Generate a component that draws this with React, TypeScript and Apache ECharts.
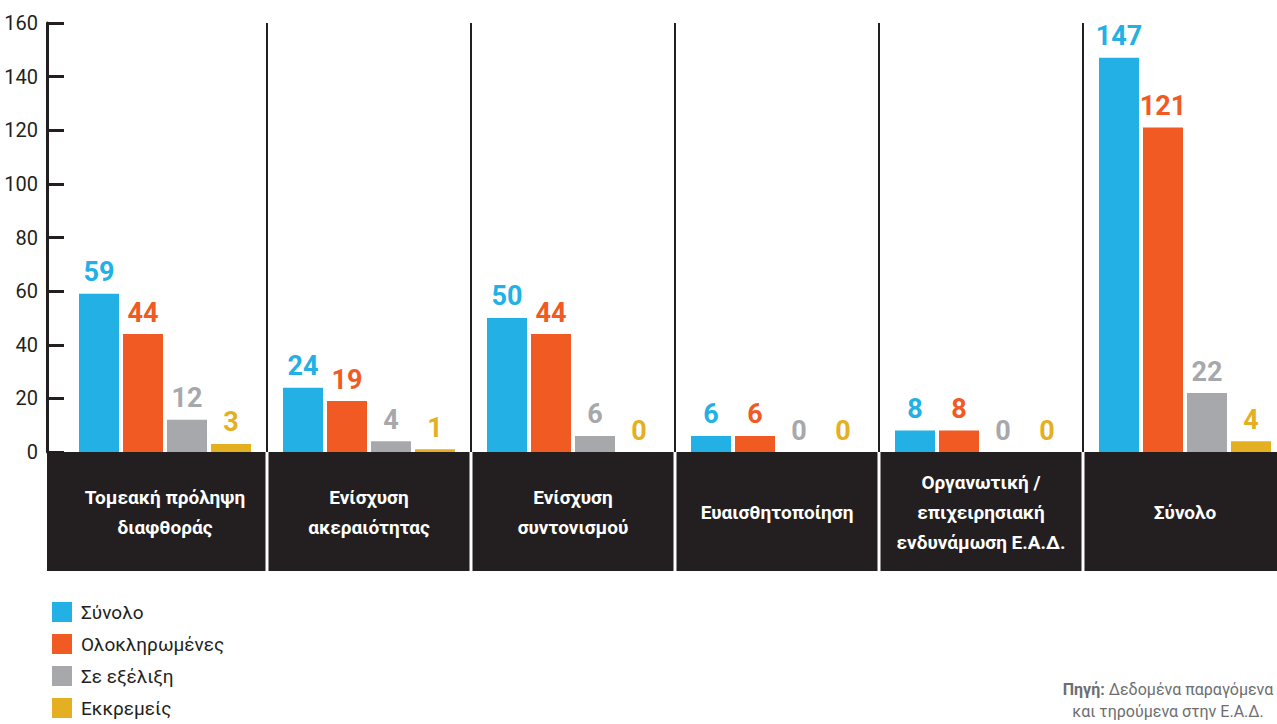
import React, { useEffect, useRef } from "react";
import * as echarts from "echarts";

const categories = [
  "Τομεακή πρόληψη\nδιαφθοράς",
  "Ενίσχυση\nακεραιότητας",
  "Ενίσχυση\nσυντονισμού",
  "Ευαισθητοποίηση",
  "Οργανωτική /\nεπιχειρησιακή\nενδυνάμωση Ε.Α.Δ.",
  "Σύνολο",
];
const seriesNames = ["Σύνολο", "Ολοκληρωμένες", "Σε εξέλιξη", "Εκκρεμείς"];
const totalValues = [59, 24, 50, 6, 8, 147];
const completedValues = [44, 19, 44, 6, 8, 121];
const inProgressValues = [12, 4, 6, 0, 0, 22];
const pendingValues = [3, 1, 0, 0, 0, 4];
const yTicks = { min: 0, max: 160, interval: 20 };
const sourceLines = ["Δεδομένα παραγόμενα", "και τηρούμενα στην Ε.Α.Δ."];

const colors = ["#22b0e5", "#f15a23", "#a7a8ab", "#e4b022"];
const FONT = "Roboto, 'Noto Sans', sans-serif";
const DARK = "#231f20";

export default function App() {
  const ref = useRef<HTMLDivElement>(null);
  useEffect(() => {
    if (!ref.current) return;
    const chart = echarts.init(ref.current, null, { renderer: "svg" });
    const gridLeft = 63;
    const gridTop = 23;
    const gridBottomY = 452;
    const n = categories.length;
    const dataSets = [totalValues, completedValues, inProgressValues, pendingValues];
    const srcStyle = { fill: "#6d6e71", fontSize: 16, fontFamily: FONT, align: "center", verticalAlign: "middle" };
    chart.setOption({
      animation: false,
      textStyle: { fontFamily: FONT },
      grid: { left: gridLeft, top: gridTop, width: 1224, height: gridBottomY - gridTop },
      legend: {
        orient: "vertical",
        left: 47,
        top: 597,
        height: 200,
        itemWidth: 20,
        itemHeight: 20,
        itemGap: 12,
        icon: "rect",
        textStyle: { fontSize: 19, color: DARK, fontFamily: FONT, padding: [0, 0, 0, 4] },
        data: seriesNames,
      },
      xAxis: {
        type: "category",
        data: categories,
        axisLine: { show: false },
        axisTick: { show: false },
        splitLine: {
          show: true,
          interval: (index: number) => index > 0,
          lineStyle: { color: DARK, width: 2 },
        },
        axisLabel: {
          interval: 0,
          margin: 60,
          verticalAlign: "middle",
          color: "#ffffff",
          fontWeight: "bold",
          fontSize: 19,
          lineHeight: 30,
          fontFamily: FONT,
          align: "center",
        },
      },
      yAxis: {
        type: "value",
        min: yTicks.min,
        max: yTicks.max,
        interval: yTicks.interval,
        offset: 16,
        axisLine: { show: true, lineStyle: { color: DARK, width: 3 } },
        axisTick: { show: true, inside: true, length: 17, lineStyle: { color: DARK, width: 3 } },
        splitLine: { show: false },
        axisLabel: { color: DARK, fontSize: 20, margin: 9, fontFamily: FONT },
      },
      series: seriesNames.map((name, i) => ({
        name,
        type: "bar",
        data: dataSets[i],
        barWidth: 40,
        barGap: "10%",
        itemStyle: { color: colors[i] },
        label: {
          show: true,
          position: "top",
          distance: 8,
          color: colors[i],
          fontSize: 27,
          fontWeight: "bold",
          fontFamily: FONT,
        },
      })),
    });
    // Dark label boxes aligned to the category bands computed by the axis
    const edges: number[] = [];
    const c0 = chart.convertToPixel({ xAxisIndex: 0 }, categories[0]) as number;
    const c1 = chart.convertToPixel({ xAxisIndex: 0 }, categories[1]) as number;
    const bandW = c1 - c0;
    for (let i = 0; i <= n; i++) edges.push(c0 - bandW / 2 + i * bandW);
    const boxes: any[] = [];
    for (let i = 0; i < n; i++) {
      const x0 = i === 0 ? 47 : edges[i] + 1.5;
      const x1 = edges[i + 1] - 1.5;
      boxes.push({
        type: "rect",
        z: -10,
        silent: true,
        shape: { x: x0, y: gridBottomY, width: x1 - x0, height: 119 },
        style: { fill: DARK },
      });
    }
    chart.setOption({
      graphic: [
        ...boxes,
        {
          type: "text",
          x: 1168,
          y: 689,
          style: {
            ...srcStyle,
            text: "{b|Πηγή:} " + sourceLines[0],
            rich: { b: { fontWeight: "bold", fontSize: 16, fill: "#6d6e71", fontFamily: FONT } },
          },
        },
        {
          type: "text",
          x: 1168,
          y: 711,
          style: { ...srcStyle, text: sourceLines[1] },
        },
      ],
    });
    return () => chart.dispose();
  }, []);
  return (
    <div style={{ position: "fixed", left: 0, top: 0, width: 1277, height: 724, overflow: "hidden", background: "#fff" }}>
      <div ref={ref} style={{ width: 1292, height: 724 }} />
    </div>
  );
}
